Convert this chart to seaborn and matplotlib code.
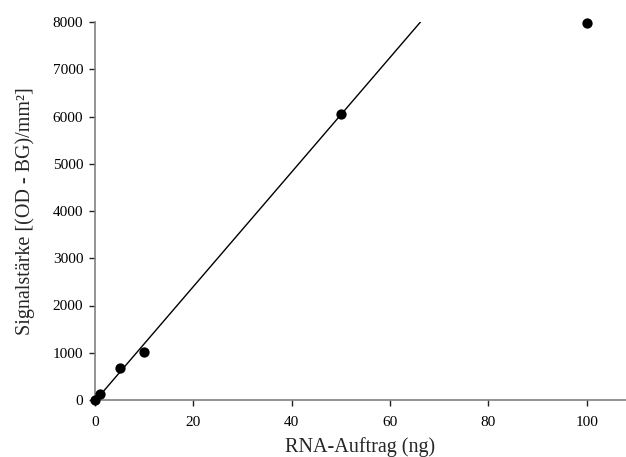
import matplotlib
matplotlib.use("Agg")
import matplotlib.pyplot as plt
import seaborn as sns
import pandas as pd

# RNA load (ng) and measured signal intensity
rna_ng = [0, 1, 5, 10, 50, 100]
signal = [0, 120, 680, 1020, 6060, 7970]

# Points used for the linear calibration fit (linear range)
fit_ng = rna_ng[:5]
fit_signal = signal[:5]

x_ticks = [0, 20, 40, 60, 80, 100]
y_ticks = [0, 1000, 2000, 3000, 4000, 5000, 6000, 7000, 8000]

sns.set_theme(style="white")
plt.rcParams["font.family"] = ["Liberation Serif", "DejaVu Serif"]

df_all = pd.DataFrame({"ng": rna_ng, "signal": signal})
df_fit = pd.DataFrame({"ng": fit_ng, "signal": fit_signal})

fig = plt.figure(figsize=(6.26, 4.57), dpi=100)
ax = fig.add_axes([95 / 626, 1 - 400 / 457, 531 / 626, 378 / 457])

ax.set_xlim(0, 108)
ax.set_ylim(0, 8000)

# Regression line across the full axis range (clipped at the top of the axes)
sns.regplot(data=df_fit, x="ng", y="signal", ax=ax, scatter=False, ci=None,
            truncate=False, color="black", line_kws={"linewidth": 1.0})

sns.scatterplot(data=df_all, x="ng", y="signal", ax=ax, color="black",
                s=55, edgecolor="black", linewidth=0, clip_on=False, zorder=5)
for coll in ax.collections:
    coll.set_clip_on(False)

ax.set_xlim(0, 108)
ax.set_ylim(0, 8000)
ax.set_xticks(x_ticks)
ax.set_yticks(y_ticks)
ax.set_xticklabels([str(v) for v in x_ticks])
ax.set_yticklabels([str(v) for v in y_ticks])

for side in ("top", "right"):
    ax.spines[side].set_visible(False)
for side in ("left", "bottom"):
    ax.spines[side].set_color("#808080")
    ax.spines[side].set_linewidth(1.2)

ax.tick_params(axis="both", which="major", direction="out", length=4.5,
               width=1.0, color="#222222", labelsize=11, labelcolor="black",
               bottom=True, left=True)
ax.tick_params(axis="x", pad=7)
ax.tick_params(axis="y", pad=4)

ax.set_xlabel("RNA-Auftrag (ng)", fontsize=14.5, labelpad=6)
ax.set_ylabel("Signalstärke [(OD - BG)/mm²]", fontsize=14.5, labelpad=13)

fig.savefig("out.png", dpi=100)
